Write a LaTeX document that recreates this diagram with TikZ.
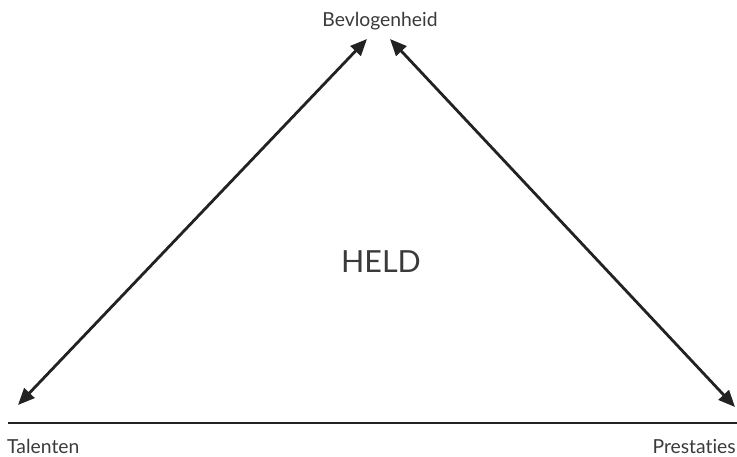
\documentclass[tikz,border=0pt]{standalone}
\usepackage{fontspec}
\setmainfont{Lato}[Ligatures=NoCommon]
\usepackage{tikz}
\usetikzlibrary{arrows.meta}

\definecolor{ink}{HTML}{222222}
\definecolor{txt}{HTML}{3A3A3A}

\begin{document}
\begin{tikzpicture}[x=0.03cm,y=-0.03cm,
    lbl/.style={inner sep=0pt,text=txt,font=\fontsize{16.5}{19}\selectfont},
    dbl/.style={ink,line width=2.4pt,{Triangle[length=0.5cm,width=0.42cm]}-{Triangle[length=0.5cm,width=0.42cm]}}]
  \useasboundingbox (0,0) rectangle (737,457);
  % corner labels
  \node[lbl,anchor=base] (bev) at (380,27) {Bevlogenheid};
  \node[lbl,anchor=base west] (tal) at (7,453) {Talenten};
  \node[lbl,anchor=base east] (pre) at (736,453) {Prestaties};
  \node[inner sep=0pt,text=txt,font=\fontsize{26}{30}\selectfont,anchor=base] (held) at (381,272) {HELD};
  % arrow ends
  \coordinate (bl) at (367,39);
  \coordinate (br) at (390,39);
  \coordinate (tl) at (18,405);
  \coordinate (pr) at (735,407);
  \draw[dbl] (tl) -- (bl);
  \draw[dbl] (br) -- (pr);
  % base line
  \coordinate (a) at (8,423);
  \coordinate (b) at (737,423);
  \draw[ink,line width=2.2pt] (a) -- (b);
\end{tikzpicture}
\end{document}
